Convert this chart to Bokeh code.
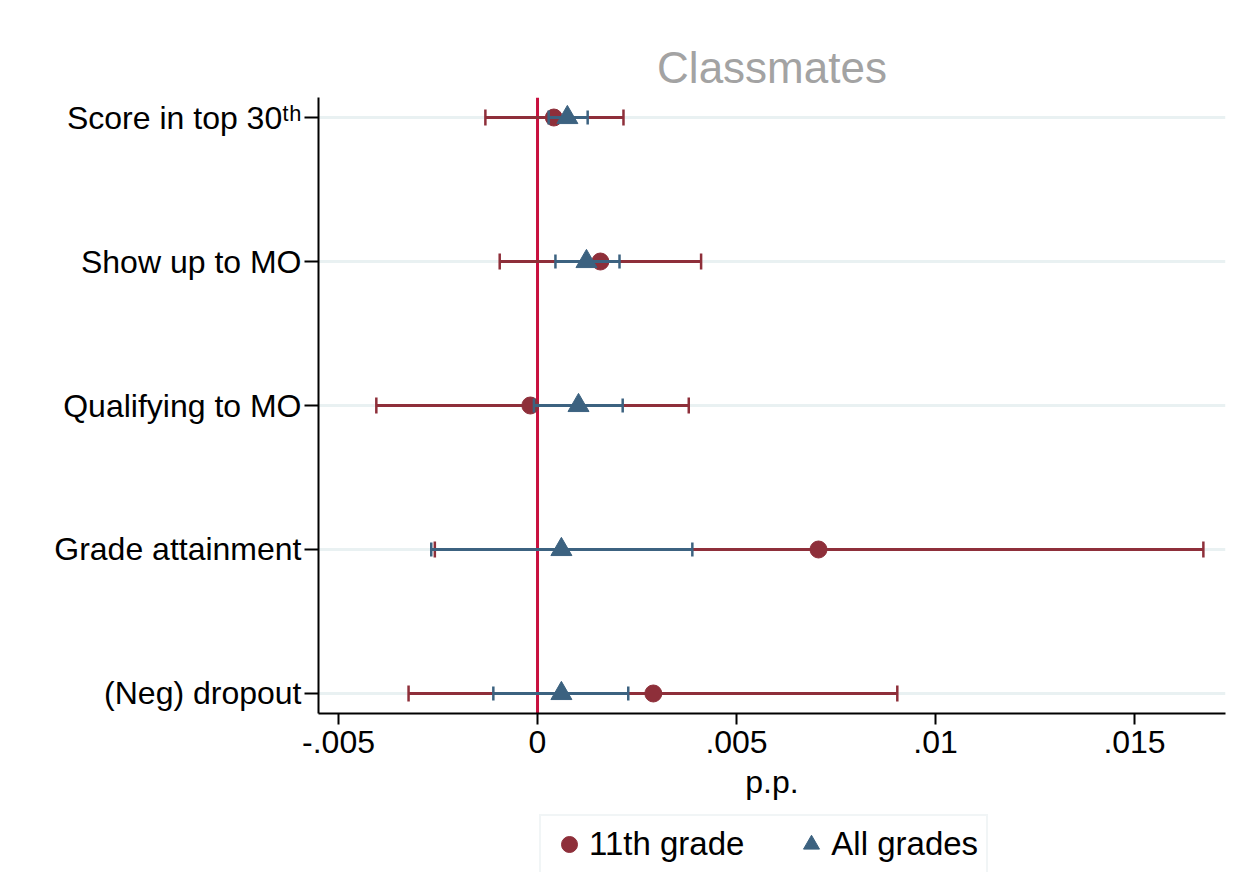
from bokeh.plotting import figure
from bokeh.layouts import column
from bokeh.models import (FixedTicker, Span, Legend, LegendItem, ColumnDataSource, Title)
from bokeh.embed import file_html
from bokeh.resources import INLINE
import numpy as np

# ---- data ----
categories = ["Score in top 30\u1d57\u02b0", "Show up to MO", "Qualifying to MO",
              "Grade attainment", "(Neg) dropout"]
ypos = [5, 4, 3, 2, 1]

g11_est = [0.00041, 0.00158, -0.00018, 0.00706, 0.00291]
g11_lo = [-0.00131, -0.00095, -0.00405, -0.00258, -0.00324]
g11_hi = [0.00216, 0.00411, 0.00380, 0.01673, 0.00904]

all_est = [0.00075, 0.00123, 0.00103, 0.00060, 0.00060]
all_lo = [0.00028, 0.00045, -0.00009, -0.00267, -0.00111]
all_hi = [0.00126, 0.00206, 0.00214, 0.00389, 0.00228]

xticks = [-0.005, 0, 0.005, 0.01, 0.015]
xtick_labels = ["-.005", "0", ".005", ".01", ".015"]
series_names = ["11th grade", "All grades"]

RED = "#8E2F3A"
BLUE = "#3C6280"
ZERO = "#C8103E"
FONT = "Liberation Sans"

H1 = 805
p = figure(width=1248, height=H1, output_backend="svg", toolbar_location=None,
           x_range=(-0.005503, 0.017286), y_range=(0.861, 5.139),
           min_border_left=318, min_border_right=23, min_border_top=97,
           min_border_bottom=H1 - 713)
p.outline_line_color = None
p.background_fill_color = "white"
p.border_fill_color = "white"

title = Title(text="Classmates", align="center", text_font=FONT, text_font_size="44px",
              text_color="#A3A3A3", text_font_style="normal", standoff=12)
p.add_layout(title, "above")

# zero line
p.add_layout(Span(location=0, dimension="height", line_color=ZERO, line_width=3,
                  level="underlay"))

src11 = ColumnDataSource(dict(y=ypos, est=g11_est, lo=g11_lo, hi=g11_hi))
srcall = ColumnDataSource(dict(y=ypos, est=all_est, lo=all_lo, hi=all_hi))

def draw(src, color, marker, size, cap):
    p.segment(x0="lo", x1="hi", y0="y", y1="y", source=src, line_color=color, line_width=3)
    p.scatter(x="lo", y="y", source=src, marker="dash", angle=np.pi / 2, size=cap,
              line_color=color, line_width=2.5)
    p.scatter(x="hi", y="y", source=src, marker="dash", angle=np.pi / 2, size=cap,
              line_color=color, line_width=2.5)
    return p.scatter(x="est", y="y", source=src, marker=marker, size=size,
                     fill_color=color, line_color=color)

draw(src11, RED, "circle", 17, 16)
draw(srcall, BLUE, "triangle", 21, 14)

# axes
p.xaxis.ticker = FixedTicker(ticks=xticks)
p.xaxis.major_label_overrides = {t: l for t, l in zip(xticks, xtick_labels)}
p.xaxis.axis_label = "p.p."
p.yaxis.ticker = FixedTicker(ticks=ypos)
p.yaxis.major_label_overrides = {y: c for y, c in zip(ypos, categories)}

for ax in (p.xaxis, p.yaxis):
    ax.axis_line_color = "black"
    ax.axis_line_width = 2
    ax.major_tick_line_color = "black"
    ax.major_tick_line_width = 2
    ax.minor_tick_line_color = None
    ax.major_tick_in = 0
    ax.major_label_text_font = FONT
    ax.major_label_text_font_size = "32px"
    ax.major_label_text_color = "black"
    ax.axis_label_text_font = FONT
    ax.axis_label_text_font_size = "32px"
    ax.axis_label_text_font_style = "normal"
    ax.axis_label_text_color = "black"

p.xaxis.major_tick_out = 11
p.xaxis.major_label_standoff = 6
p.xaxis.axis_label_standoff = 8
p.yaxis.major_tick_out = 14
p.yaxis.major_label_standoff = 3

p.xgrid.grid_line_color = None
p.ygrid.grid_line_color = "#E9F1F2"
p.ygrid.grid_line_width = 3

# ---- legend strip below (its frame is aligned with the main frame) ----
H2 = 872 - H1
p2 = figure(width=1248, height=H2, output_backend="svg", toolbar_location=None,
            x_range=p.x_range, y_range=(10, 11), x_axis_type=None, y_axis_type=None,
            min_border=0)
p2.outline_line_color = None
p2.xgrid.grid_line_color = None
p2.ygrid.grid_line_color = None
p2.border_fill_color = "white"
# legend keys: same series, outside this strip's visible y range
k11 = p2.scatter(x="est", y="y", source=src11, marker="circle", fill_color=RED, line_color=RED)
kall = p2.scatter(x="est", y="y", source=srcall, marker="triangle", fill_color=BLUE,
                  line_color=BLUE)

legend = Legend(items=[LegendItem(label=series_names[0], renderers=[k11]),
                       LegendItem(label=series_names[1], renderers=[kall])],
                orientation="horizontal", location=(221, -2),
                glyph_width=40, glyph_height=40, padding=8, spacing=47,
                label_standoff=0, label_text_font=FONT, label_text_font_size="33px",
                label_text_color="black", border_line_color="#E3ECEE",
                border_line_width=2, background_fill_color="white",
                background_fill_alpha=1.0, margin=0)
p2.add_layout(legend, "center")

open("out.html", "w").write(file_html(column(p, p2, spacing=0), INLINE))
